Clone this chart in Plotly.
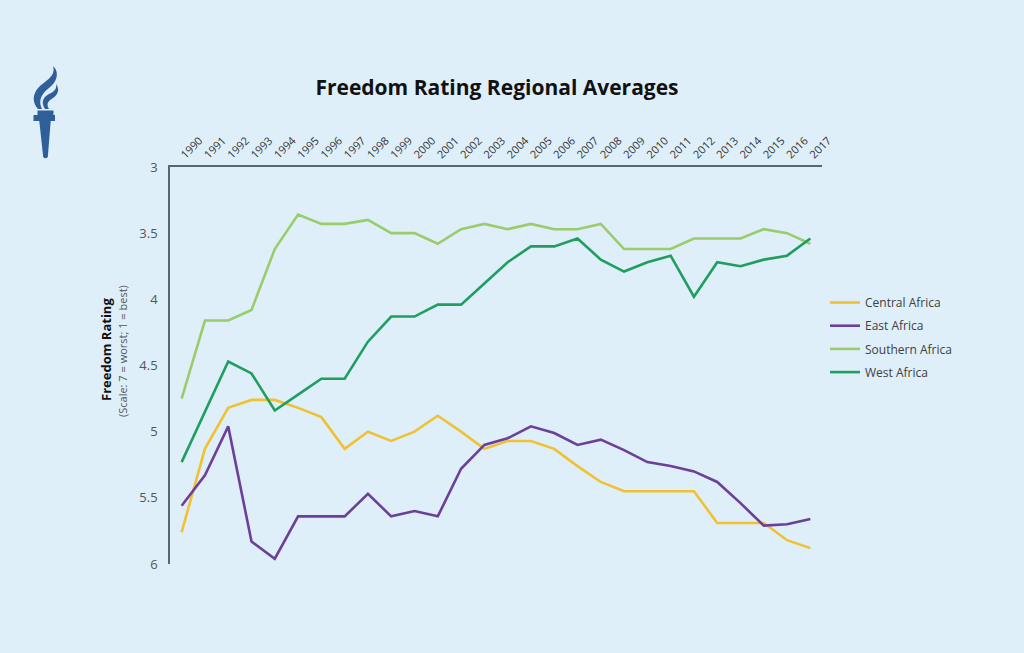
import plotly.graph_objects as go

years = [str(y) for y in range(1990, 2018)]

central_africa = [5.76, 5.13, 4.82, 4.76, 4.76, 4.82, 4.89, 5.13, 5.00, 5.07, 5.00, 4.88, 5.00, 5.13,
                  5.07, 5.07, 5.13, 5.26, 5.38, 5.45, 5.45, 5.45, 5.45, 5.69, 5.69, 5.69, 5.82, 5.88]
east_africa = [5.56, 5.33, 4.96, 5.83, 5.96, 5.64, 5.64, 5.64, 5.47, 5.64, 5.60, 5.64, 5.28, 5.10,
               5.05, 4.96, 5.01, 5.10, 5.06, 5.14, 5.23, 5.26, 5.30, 5.38, 5.54, 5.71, 5.70, 5.66]
southern_africa = [4.75, 4.16, 4.16, 4.08, 3.62, 3.36, 3.43, 3.43, 3.40, 3.50, 3.50, 3.58, 3.47, 3.43,
                   3.47, 3.43, 3.47, 3.47, 3.43, 3.62, 3.62, 3.62, 3.54, 3.54, 3.54, 3.47, 3.50, 3.58]
west_africa = [5.23, 4.85, 4.47, 4.56, 4.84, 4.72, 4.60, 4.60, 4.32, 4.13, 4.13, 4.04, 4.04, 3.88,
               3.72, 3.60, 3.60, 3.54, 3.70, 3.79, 3.72, 3.67, 3.98, 3.72, 3.75, 3.70, 3.67, 3.54]

series_names = ["Central Africa", "East Africa", "Southern Africa", "West Africa"]
series_values = [central_africa, east_africa, southern_africa, west_africa]
series_colors = ["#f0c132", "#6c3f99", "#99cc6b", "#1f9e5f"]

y_ticks = [3, 3.5, 4, 4.5, 5, 5.5, 6]

BG = "#deeff9"
FONT = "Open Sans, Noto Sans, DejaVu Sans, sans-serif"

fig = go.Figure()
for name, vals, col in zip(series_names, series_values, series_colors):
    fig.add_trace(go.Scatter(x=years, y=vals, name=name, mode="lines", legendgroup=name,
                             line=dict(color=col, width=2.6)))

# plot area in pixels
L, R, T, B = 170, 822, 167, 564
W, H = 1024, 653


def px(x):
    return (x - L) / (R - L)


def py(y):
    return (B - y) / (B - T)


def path(cmds):
    out = []
    for c in cmds:
        if isinstance(c, str):
            out.append(c)
        else:
            out.append(f"{px(c[0]):.5f},{py(c[1]):.5f}")
    return " ".join(out)


logo_col = "#2f5f98"
logo_paths = [
    # handle
    ["M", (39.3, 121), "L", (50.7, 121), "L", (47.8, 157), "Q", (45.5, 159.5), (43.2, 157), "Z"],
    # rim
    ["M", (33.5, 115), "L", (55, 115), "L", (55, 121), "L", (33.5, 121), "Z"],
    ["M", (37.5, 110.5), "L", (53.5, 110.5), "L", (53.5, 115), "L", (37.5, 115), "Z"],
    # flame back
    ["M", (38, 109), "C", (29, 98), (36, 88), (45, 82), "C", (52, 77), (55, 72), (53, 66),
     "C", (60, 72), (57, 82), (49, 88), "C", (41, 94), (38, 101), (42, 109), "Z"],
    # flame front
    ["M", (45, 109), "C", (40, 101), (44, 96), (51, 93), "C", (55, 91), (57, 88), (56, 84),
     "C", (60, 89), (58, 95), (53, 98), "C", (48, 101), (46, 104), (49, 109), "Z"],
]
for p in logo_paths:
    fig.add_shape(type="path", xref="paper", yref="paper", path=path(p),
                  fillcolor=logo_col, line=dict(width=0), layer="above")

fig.add_annotation(text="<b>Freedom Rating</b>", xref="paper", yref="paper",
                   x=px(106), y=py(350), xanchor="center", yanchor="middle",
                   textangle=-90, showarrow=False,
                   font=dict(size=13, color="#111111", family=FONT))
fig.add_annotation(text="(Scale: 7 = worst; 1 = best)", xref="paper", yref="paper",
                   x=px(122), y=py(351), xanchor="center", yanchor="middle",
                   textangle=-90, showarrow=False,
                   font=dict(size=11, color="#555555", family=FONT))

fig.update_layout(
    width=W, height=H,
    paper_bgcolor=BG, plot_bgcolor=BG,
    margin=dict(l=L, r=W - R, t=T, b=H - B),
    font=dict(family=FONT, color="#404040"),
    title=dict(text="<b>Freedom Rating Regional Averages</b>", x=497 / W, xanchor="center",
               y=1 - 88 / H, yanchor="middle",
               font=dict(size=21, color="#111111", family=FONT)),
    xaxis=dict(type="category", side="top", tickangle=-45, showgrid=False,
               showline=True, linecolor="#5a6570", linewidth=1.5, ticks="",
               tickfont=dict(size=11, color="#333333"), range=[-0.5, 27.5],
               fixedrange=True),
    yaxis=dict(range=[6, 3], tickvals=y_ticks, ticktext=[f"{v:g}" for v in y_ticks],
               showgrid=False, zeroline=False, showline=True, linecolor="#5a6570",
               linewidth=1.5, ticks="", ticklabelstandoff=8,
               tickfont=dict(size=13, color="#555555")),
    legend=dict(x=px(825), y=py(288), xanchor="left", yanchor="top",
                bgcolor="rgba(0,0,0,0)", font=dict(size=12, color="#404040"),
                itemwidth=30, tracegroupgap=4.2),
    showlegend=True,
)

fig.write_html("out.html", config={"displayModeBar": False},
               post_script="document.body.style.margin='0';document.body.style.padding='0';"
                           "document.body.style.overflow='hidden';")
